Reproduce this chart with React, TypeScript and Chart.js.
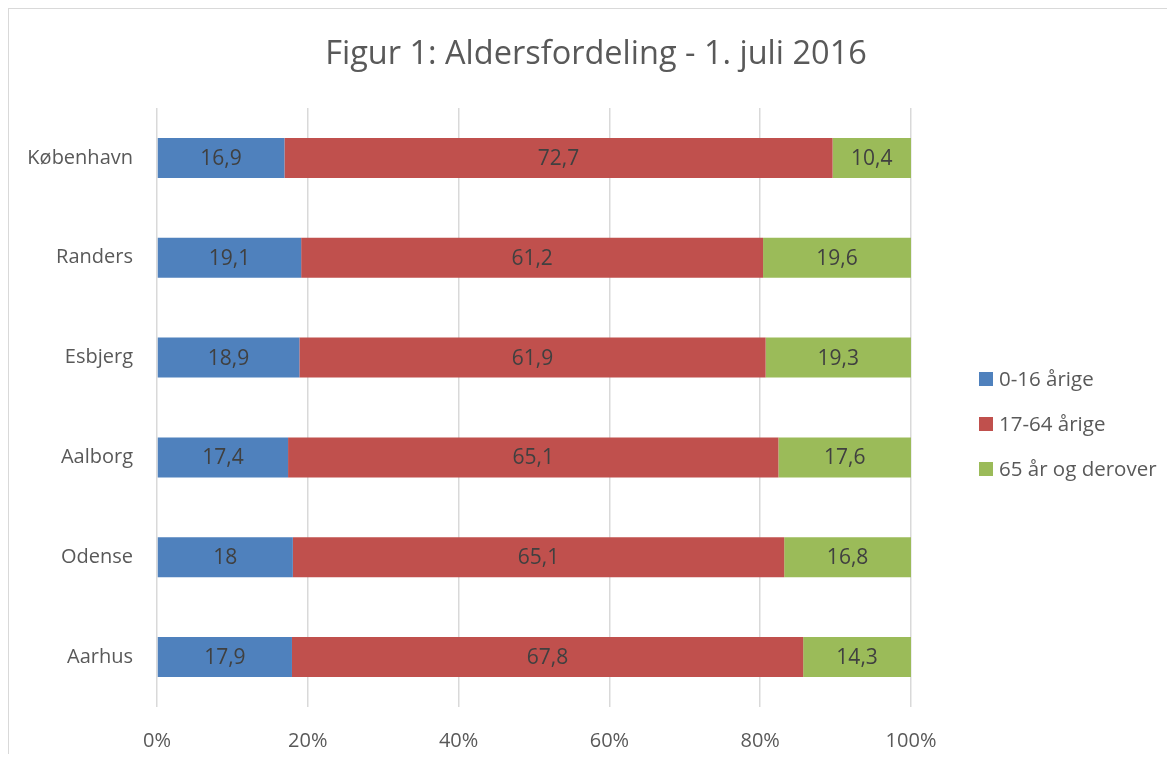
import React, { useEffect, useRef } from "react";
import { Chart, registerables } from "chart.js";

Chart.register(...registerables);

const categories = ["København", "Randers", "Esbjerg", "Aalborg", "Odense", "Aarhus"];
const age0to16 = [16.9, 19.1, 18.9, 17.4, 18, 17.9];
const age17to64 = [72.7, 61.2, 61.9, 65.1, 65.1, 67.8];
const age65plus = [10.4, 19.6, 19.3, 17.6, 16.8, 14.3];
const seriesNames = ["0-16 årige", "17-64 årige", "65 år og derover"];
const seriesColors = ["#4f81bd", "#c0504d", "#9bbb59"];
const xTicks = [0, 20, 40, 60, 80, 100];

const FONT = "'Open Sans', 'Noto Sans', sans-serif";

const fmt = (v: number) => String(v).replace(".", ",");

const rawSeries = [age0to16, age17to64, age65plus];
const totals = categories.map((_, i) => rawSeries.reduce((s, arr) => s + arr[i], 0));
const pct = (arr: number[]) => arr.map((v, i) => (v / totals[i]) * 100);

const dataLabelPlugin = {
  id: "dataLabels",
  afterDatasetsDraw(chart: any) {
    const ctx = chart.ctx;
    ctx.save();
    ctx.font = `21px ${FONT}`;
    ctx.fillStyle = "#404040";
    ctx.textAlign = "center";
    ctx.textBaseline = "middle";
    chart.data.datasets.forEach((ds: any, di: number) => {
      const meta = chart.getDatasetMeta(di);
      meta.data.forEach((bar: any, i: number) => {
        const cx = (bar.x + bar.base) / 2;
        ctx.fillText(fmt(ds.raw[i]), cx, bar.y + 1);
      });
    });
    ctx.restore();
  },
};

const legendPlugin = {
  id: "customLegend",
  afterDraw(chart: any) {
    const ctx = chart.ctx;
    const area = chart.chartArea;
    const x = area.right + 68;
    const midY = (area.top + area.bottom) / 2 + 16.5;
    const gap = 45;
    ctx.save();
    ctx.font = `20.5px ${FONT}`;
    ctx.textBaseline = "middle";
    ctx.textAlign = "left";
    seriesNames.forEach((name, i) => {
      const cy = midY + (i - 1) * gap;
      ctx.fillStyle = seriesColors[i];
      ctx.fillRect(x, cy - 7, 14, 14);
      ctx.fillStyle = "#595959";
      ctx.fillText(name, x + 20, cy + 1);
    });
    ctx.restore();
  },
};

export default function App() {
  const ref = useRef<HTMLCanvasElement | null>(null);

  useEffect(() => {
    document.body.style.overflow = "hidden";
    if (!ref.current) return;
    const chart = new Chart(ref.current, {
      type: "bar",
      data: {
        labels: categories,
        datasets: rawSeries.map((arr, i) => ({
          label: seriesNames[i],
          data: pct(arr),
          raw: arr,
          backgroundColor: seriesColors[i],
          borderWidth: 0,
          categoryPercentage: 0.8,
          barPercentage: 0.5,
        })) as any,
      },
      options: {
        indexAxis: "y",
        animation: false,
        responsive: false,
        maintainAspectRatio: false,
        layout: { padding: { left: 16, top: 0, right: 0, bottom: 0 } },
        plugins: {
          legend: { display: false },
          tooltip: { enabled: false },
          title: {
            display: true,
            text: "Figur 1: Aldersfordeling - 1. juli 2016",
            color: "#595959",
            font: { family: FONT, size: 32.5, weight: "normal", lineHeight: 1.2 },
            padding: { top: 26, bottom: 34 },
          },
        },
        scales: {
          x: {
            type: "linear",
            stacked: true,
            min: 0,
            max: 100,
            afterBuildTicks: (s: any) => {
              s.ticks = xTicks.map((v) => ({ value: v }));
            },
            afterFit: (s: any) => {
              s.height = 47;
            },
            ticks: {
              padding: 22,
              color: "#595959",
              font: { family: FONT, size: 20 },
              callback: (v: any) => v + "%",
            },
            grid: { color: "#d9d9d9", lineWidth: 1.5, drawTicks: false },
            border: { display: false },
          },
          y: {
            type: "category",
            stacked: true,
            afterFit: (s: any) => {
              s.width = 132;
            },
            ticks: {
              padding: 24,
              color: "#595959",
              font: { family: FONT, size: 20 },
            },
            grid: { display: false, drawTicks: false },
            border: { display: false },
          },
          yRight: {
            type: "category",
            axis: "y",
            position: "right",
            display: true,
            afterFit: (s: any) => {
              s.width = 256;
            },
            ticks: { display: false },
            grid: { display: false, drawTicks: false },
            border: { display: false },
          },
        } as any,
      },
      plugins: [dataLabelPlugin, legendPlugin],
    });
    return () => chart.destroy();
  }, []);

  return (
    <div
      style={{
        borderLeft: "1px solid #d9d9d9",
        borderTop: "1px solid #d9d9d9",
        width: 1158,
        height: 745,
      }}
    >
      <canvas ref={ref} width={1158} height={745} style={{ display: "block" }} />
    </div>
  );
}
